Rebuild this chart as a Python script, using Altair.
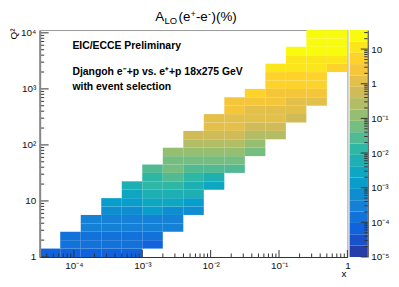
import altair as alt
import numpy as np
import pandas as pd

# ---------------- values ----------------
# x bins: 0.3 decade wide from 10^-4.5 to 1 ; Q2 bins: 0.15 decade wide from 1 to 10^4.05
x_lo_exp, x_step, n_x = -4.5, 0.3, 15
q_lo_exp, q_step, n_q = 0.0, 0.15, 27

# first filled Q2 bin of every x column
first_q2_bin = [0, 0, 0, 0, 0, 1, 3, 5, 8, 10, 12, 14, 16, 18, 22]

# A_LO (%) in every filled cell, column by column, from the lowest Q2 bin upward
col_00 = [7.0e-5]
col_01 = [7.5e-5, 1.5e-4, 1.6e-4]
col_02 = [7.0e-5, 1.4e-4, 1.6e-4, 3.0e-4, 3.3e-4]
col_03 = [6.8e-5, 1.4e-4, 1.5e-4, 3.0e-4, 3.4e-4, 6.2e-4, 1.3e-3]
col_04 = [6.5e-5, 1.3e-4, 1.6e-4, 3.1e-4, 3.5e-4, 6.5e-4, 1.4e-3, 2.9e-3, 6.2e-3]
col_05 = [6.8e-5, 1.5e-4, 3.0e-4, 3.4e-4, 1.4e-3, 2.9e-3, 6.0e-3, 1.2e-2, 1.4e-2, 2.7e-2]
col_06 = [3.1e-4, 3.4e-4, 6.6e-4, 2.8e-3, 6.1e-3, 1.3e-2, 2.8e-2, 5.6e-2, 6.2e-2, 0.12]
col_07 = [6.4e-4, 1.4e-3, 5.8e-3, 6.4e-3, 1.3e-2, 2.8e-2, 5.7e-2, 0.12, 0.26, 0.55]
col_08 = [2.8e-3, 6.0e-3, 2.7e-2, 5.8e-2, 0.12, 0.25, 0.56, 1.1, 1.3]
col_09 = [2.6e-2, 5.7e-2, 0.12, 0.26, 0.55, 1.15, 1.3, 2.4, 2.7]
col_10 = [5.5e-2, 0.12, 0.25, 0.54, 1.1, 1.25, 2.5, 5.3]
col_11 = [0.25, 0.55, 1.1, 1.3, 2.4, 2.7, 5.2, 5.8, 11.0]
col_12 = [0.56, 1.1, 1.3, 2.5, 5.1, 5.9, 11.0, 12.5, 23.0]
col_13 = [1.2, 2.6, 5.2, 5.8, 11.2, 12.0, 23.0, 25.0, 26.0]
col_14 = [5.6, 11.8, 24.0, 25.0, 27.0]
columns = [col_00, col_01, col_02, col_03, col_04, col_05, col_06, col_07,
           col_08, col_09, col_10, col_11, col_12, col_13, col_14]

# colour axis (log z, 20 contours)
z_min_exp, z_max_exp, n_levels = -5.0, 1.55, 20

x_major = [1e-4, 1e-3, 1e-2, 1e-1, 1]
x_major_labels = ["10⁻⁴", "10⁻³", "10⁻²", "10⁻¹", "1"]
q2_major = [1, 10, 100, 1000, 10000]
q2_major_labels = ["1", "10", "10²", "10³", "10⁴"]
z_major = [1e-5, 1e-4, 1e-3, 1e-2, 1e-1, 1, 10]
z_major_labels = ["10⁻⁵", "10⁻⁴", "10⁻³", "10⁻²", "10⁻¹", "1", "10"]

text_lines = ["EIC/ECCE Preliminary", "Djangoh e⁻+p vs. e⁺+p 18x275 GeV", "with event selection"]

# ---------------- build tables ----------------
x_edges = [10 ** (x_lo_exp + x_step * i) for i in range(n_x + 1)]
q_edges = [10 ** (q_lo_exp + q_step * j) for j in range(n_q + 1)]
rows = []
for c, vals in enumerate(columns):
    for k, v in enumerate(vals):
        r = first_q2_bin[c] + k
        rows.append(dict(x1=x_edges[c], x2=x_edges[c + 1], y1=q_edges[r], y2=q_edges[r + 1], a=v))
df = pd.DataFrame(rows)

levels = [10 ** (z_min_exp + i * (z_max_exp - z_min_exp) / n_levels) for i in range(n_levels + 1)]
cb = pd.DataFrame(dict(lo=levels[:-1], hi=levels[1:],
                       mid=[np.sqrt(a * b) for a, b in zip(levels[:-1], levels[1:])]))

# ROOT kBird palette
stops = [0.0, 0.125, 0.25, 0.375, 0.5, 0.625, 0.75, 0.875, 1.0]
red = [0.2082, 0.0592, 0.0780, 0.0232, 0.1802, 0.5301, 0.8186, 0.9956, 0.9764]
green = [0.1664, 0.3599, 0.5041, 0.6419, 0.7178, 0.7492, 0.7328, 0.7862, 0.9832]
blue = [0.5293, 0.8684, 0.8385, 0.7914, 0.6425, 0.4662, 0.3499, 0.1968, 0.0539]
palette = []
for i in range(n_levels):
    t = min(1.0, (i + 0.99) / n_levels)
    rgb = [int(round(255 * np.interp(t, stops, ch))) for ch in (red, green, blue)]
    palette.append("#%02x%02x%02x" % tuple(rgb))

cscale = alt.Scale(type="threshold", domain=levels[1:-1], range=palette)


def label_expr(vals, labs):
    s = ""
    for v, l in zip(vals, labs):
        s += f"abs(log(datum.value)/LN10 - ({np.log10(v):.3f})) < 0.01 ? '{l}' : "
    return s + "''"


def minor(lo_exp, hi_exp, lo, hi):
    out = []
    for d in range(lo_exp, hi_exp + 1):
        for m in range(2, 10):
            v = m * 10 ** d
            if lo < v < hi:
                out.append(v)
    return out


W, H = 310.5, 229
CB_X0, CB_X1 = 312.7, 331.0      # colour bar placed right of the frame
FONT = "Liberation Sans"
tick_col = "#333333"

xs = alt.Scale(type="log", domain=[x_edges[0], x_edges[-1]], nice=False)
ys = alt.Scale(type="log", domain=[q_edges[0], q_edges[-1]], nice=False)
zs = alt.Scale(type="log", domain=[levels[0], levels[-1]], nice=False)

heat = alt.Chart(df).mark_rect(strokeWidth=0).encode(
    x=alt.X("x1:Q", scale=xs, axis=alt.Axis(values=x_major, labelExpr=label_expr(x_major, x_major_labels),
                                             title=None, ticks=False, grid=False, domainColor="#333333",
                                             domainWidth=1.2, labelFontSize=10, labelFont=FONT,
                                             labelColor="#111111", labelPadding=4, zindex=1,
                                             labelFlush=False, labelOverlap=False)),
    x2="x2:Q",
    y=alt.Y("y1:Q", scale=ys, axis=alt.Axis(values=q2_major, labelExpr=label_expr(q2_major, q2_major_labels),
                                             title=None, ticks=False, grid=False, domainColor="#888888",
                                             domainWidth=2, labelFontSize=10, labelFont=FONT,
                                             labelColor="#111111", labelPadding=4, zindex=1,
                                             labelFlush=False, labelOverlap=False, orient="left")),
    y2="y2:Q",
    color=alt.Color("a:Q", scale=cscale, legend=None),
)

y_maj = alt.Chart(pd.DataFrame(dict(v=q2_major))).mark_rule(color=tick_col, strokeWidth=1).encode(
    y=alt.Y("v:Q", scale=ys), x=alt.value(0), x2=alt.value(9))
y_min = alt.Chart(pd.DataFrame(dict(v=minor(0, 4, q_edges[0], q_edges[-1])))).mark_rule(
    color=tick_col, strokeWidth=1).encode(y=alt.Y("v:Q", scale=ys), x=alt.value(0), x2=alt.value(4.5))
x_maj = alt.Chart(pd.DataFrame(dict(v=x_major))).mark_rule(color=tick_col, strokeWidth=1).encode(
    x=alt.X("v:Q", scale=xs), y=alt.value(H), y2=alt.value(H - 7))
x_min = alt.Chart(pd.DataFrame(dict(v=minor(-5, 0, x_edges[0], x_edges[-1])))).mark_rule(
    color=tick_col, strokeWidth=1).encode(x=alt.X("v:Q", scale=xs), y=alt.value(H), y2=alt.value(H - 3.5))

texts = []
for line, yy in zip(text_lines, [19.3, 45.0, 60.0]):
    texts.append(alt.Chart(pd.DataFrame(dict(t=[line]))).mark_text(
        align="left", baseline="alphabetic", font=FONT, fontWeight="bold", fontSize=10.5, color="#000000"
    ).encode(text="t:N", x=alt.value(33), y=alt.value(yy)))

# title A_LO(e^+ - e^-)(%) assembled from normal, sub- and superscript pieces
title_parts = [("A", 13.5, 116.7, -8.8), ("LO", 9.5, 126.0, -6.3), ("(e", 13.5, 140.0, -8.8),
               ("+", 8.5, 152.4, -13.0), ("-e", 13.5, 157.6, -8.8), ("-", 8.5, 169.8, -13.2),
               (")(%)", 13.5, 173.4, -8.8)]
title_layers = []
for txt, fs, xx, yy in title_parts:
    title_layers.append(alt.Chart(pd.DataFrame(dict(t=[txt]))).mark_text(
        align="left", baseline="alphabetic", font=FONT, fontSize=fs, color="#000000"
    ).encode(text="t:N", x=alt.value(xx), y=alt.value(yy)))

q2_title = alt.Chart(pd.DataFrame(dict(t=["Q²"]))).mark_text(
    align="center", baseline="middle", angle=270, font=FONT, fontSize=10, color="#000000"
).encode(text="t:N", x=alt.value(-26.2), y=alt.value(4))
x_title = alt.Chart(pd.DataFrame(dict(t=["x"]))).mark_text(
    align="center", baseline="middle", font=FONT, fontSize=10, color="#000000"
).encode(text="t:N", x=alt.value(307), y=alt.value(246))

main = alt.layer(heat, y_min, y_maj, x_min, x_maj, *texts, *title_layers, q2_title, x_title)

bar = alt.Chart(cb).mark_rect(strokeWidth=0).encode(
    y=alt.Y("lo:Q", scale=zs, axis=alt.Axis(orient="right", values=z_major, offset=CB_X1 - W,
                                             labelExpr=label_expr(z_major, z_major_labels), title=None,
                                             ticks=False, grid=False, domainColor="#333333", domainWidth=1,
                                             labelFontSize=10, labelFont=FONT, labelColor="#111111",
                                             labelPadding=3, zindex=1, labelFlush=False, labelOverlap=False)),
    y2="hi:Q",
    x=alt.value(CB_X0), x2=alt.value(CB_X1),
    color=alt.Color("mid:Q", scale=cscale, legend=None),
)
z_maj = alt.Chart(pd.DataFrame(dict(v=z_major))).mark_rule(color=tick_col, strokeWidth=1).encode(
    y=alt.Y("v:Q", scale=zs), x=alt.value(CB_X1), x2=alt.value(CB_X1 - 7))
z_min = alt.Chart(pd.DataFrame(dict(v=minor(-5, 1, levels[0], levels[-1])))).mark_rule(
    color=tick_col, strokeWidth=1).encode(y=alt.Y("v:Q", scale=zs), x=alt.value(CB_X1), x2=alt.value(CB_X1 - 3.5))

colorbar = alt.layer(bar, z_min, z_maj)

chart = alt.layer(main, colorbar).resolve_scale(y="independent", color="shared").properties(
    width=W, height=H,
    autosize=alt.AutoSizeParams(type="none"),
    padding={"left": 32, "top": 21, "right": 44, "bottom": 24},
).configure(background="white").configure_view(stroke="#9a9a9a", strokeWidth=1)

chart.save("out.html", embed_options={"renderer": "svg", "actions": False})
